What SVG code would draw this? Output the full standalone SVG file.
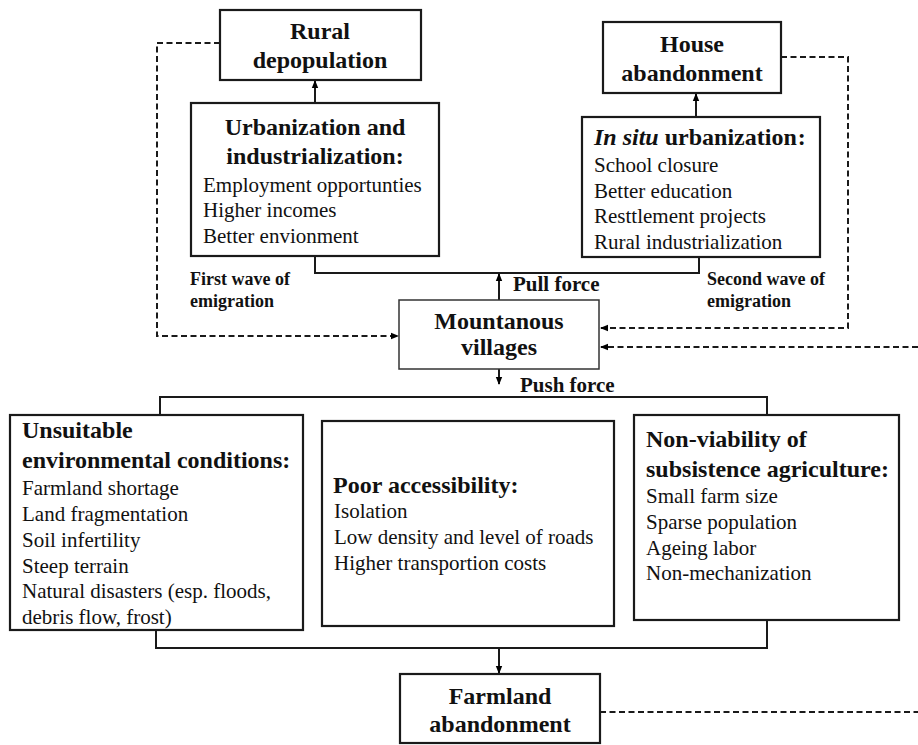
<svg xmlns="http://www.w3.org/2000/svg" width="918" height="745" viewBox="0 0 918 745">
<defs>
<marker id="ah" markerWidth="8" markerHeight="8" refX="7" refY="4" orient="auto" markerUnits="userSpaceOnUse">
<path d="M0,0.8 L8,4 L0,7.2 Z" fill="#000"/>
</marker>
<style>
.box{fill:#fff;stroke:#1a1a1a;stroke-width:2.2}
.thin{fill:#fff;stroke:#333;stroke-width:1.5}
.ln{fill:none;stroke:#1a1a1a;stroke-width:2}
.ds{fill:none;stroke:#1a1a1a;stroke-width:2;stroke-dasharray:6,3.5}
text{font-family:"Liberation Serif","Times New Roman",serif;fill:#111}
.h{font-size:24px;font-weight:bold}
.b{font-size:21px}
.lb{font-size:18px;font-weight:bold}
.pf{font-size:21px;font-weight:bold}
.c{text-anchor:middle}
</style>
</defs>
<rect width="918" height="745" fill="#fff"/>
<g id="connectors">
<path class="ln" d="M315,103 V81" marker-end="url(#ah)"/>
<path class="ln" d="M696,117 V94" marker-end="url(#ah)"/>
<path class="ln" d="M315,256 V273 H699 V257"/>
<path class="ln" d="M499,300 V274" marker-end="url(#ah)"/>
<path class="ln" d="M499,369 V384" marker-end="url(#ah)"/>
<path class="ln" d="M160,415 V397 H767 V415"/>
<path class="ln" d="M156,630 V648 H767 V620"/>
<path class="ln" d="M499,648 V673" marker-end="url(#ah)"/>
<path class="ds" d="M220,43 H157 V336 H398" marker-end="url(#ah)"/>
<path class="ds" d="M781,57 H848 V328 H601" marker-end="url(#ah)"/>
<path class="ds" d="M918,347 H601" marker-end="url(#ah)"/>
<path class="ds" d="M600,712 H918"/>
<text class="lb" x="190" y="285">First wave of</text>
<text class="lb" x="190" y="307">emigration</text>
<text class="lb" x="707" y="285">Second wave of</text>
<text class="lb" x="707" y="307">emigration</text>
<text class="pf" x="513" y="291">Pull force</text>
<text class="pf" x="520" y="392">Push force</text>
</g>
<g id="rural-depopulation">
<rect class="box" x="220" y="10" width="201" height="70"/>
<text class="h c" x="320" y="39">Rural</text>
<text class="h c" x="320" y="68">depopulation</text>
</g>
<g id="house-abandonment">
<rect class="box" x="603" y="22" width="178" height="71"/>
<text class="h c" x="692" y="52">House</text>
<text class="h c" x="692" y="81">abandonment</text>
</g>
<g id="urbanization">
<rect class="box" x="191" y="103" width="248" height="153"/>
<text class="h c" x="315" y="135">Urbanization and</text>
<text class="h c" x="315" y="164">industrialization:</text>
<text class="b" x="203" y="192">Employment opportunties</text>
<text class="b" x="203" y="217">Higher incomes</text>
<text class="b" x="203" y="243">Better envionment</text>
</g>
<g id="in-situ">
<rect class="box" x="582" y="117" width="238" height="140"/>
<text class="h" x="594" y="145"><tspan font-style="italic">In situ</tspan> urbanization<tspan dx="1">:</tspan></text>
<text class="b" x="594" y="172">School closure</text>
<text class="b" x="594" y="198">Better education</text>
<text class="b" x="594" y="223">Resttlement projects</text>
<text class="b" x="594" y="249">Rural industrialization</text>
</g>
<g id="mountanous-villages">
<rect class="thin" x="399" y="300" width="200" height="69"/>
<text class="h c" x="499" y="329">Mountanous</text>
<text class="h c" x="499" y="355">villages</text>
</g>
<g id="unsuitable">
<rect class="box" x="10" y="415" width="293" height="215"/>
<text class="h" x="22" y="438">Unsuitable</text>
<text class="h" x="22" y="468">environmental conditions:</text>
<text class="b" x="22" y="495">Farmland shortage</text>
<text class="b" x="22" y="521">Land fragmentation</text>
<text class="b" x="22" y="547">Soil infertility</text>
<text class="b" x="22" y="573">Steep terrain</text>
<text class="b" x="22" y="598">Natural disasters (esp. floods,</text>
<text class="b" x="22" y="624">debris flow, frost)</text>
</g>
<g id="poor-accessibility">
<rect class="box" x="322" y="421" width="292" height="205"/>
<text class="h" x="333" y="493">Poor accessibility:</text>
<text class="b" x="334" y="518">Isolation</text>
<text class="b" x="334" y="544">Low density and level of roads</text>
<text class="b" x="334" y="570">Higher transportion costs</text>
</g>
<g id="non-viability">
<rect class="box" x="634" y="415" width="265" height="205"/>
<text class="h" x="646" y="447">Non-viability of</text>
<text class="h" x="646" y="477">subsistence agriculture:</text>
<text class="b" x="646" y="503">Small farm size</text>
<text class="b" x="646" y="529">Sparse population</text>
<text class="b" x="646" y="555">Ageing labor</text>
<text class="b" x="646" y="580">Non-mechanization</text>
</g>
<g id="farmland-abandonment">
<rect class="box" x="400" y="674" width="200" height="69"/>
<text class="h c" x="500" y="704">Farmland</text>
<text class="h c" x="500" y="732">abandonment</text>
</g>
</svg>
